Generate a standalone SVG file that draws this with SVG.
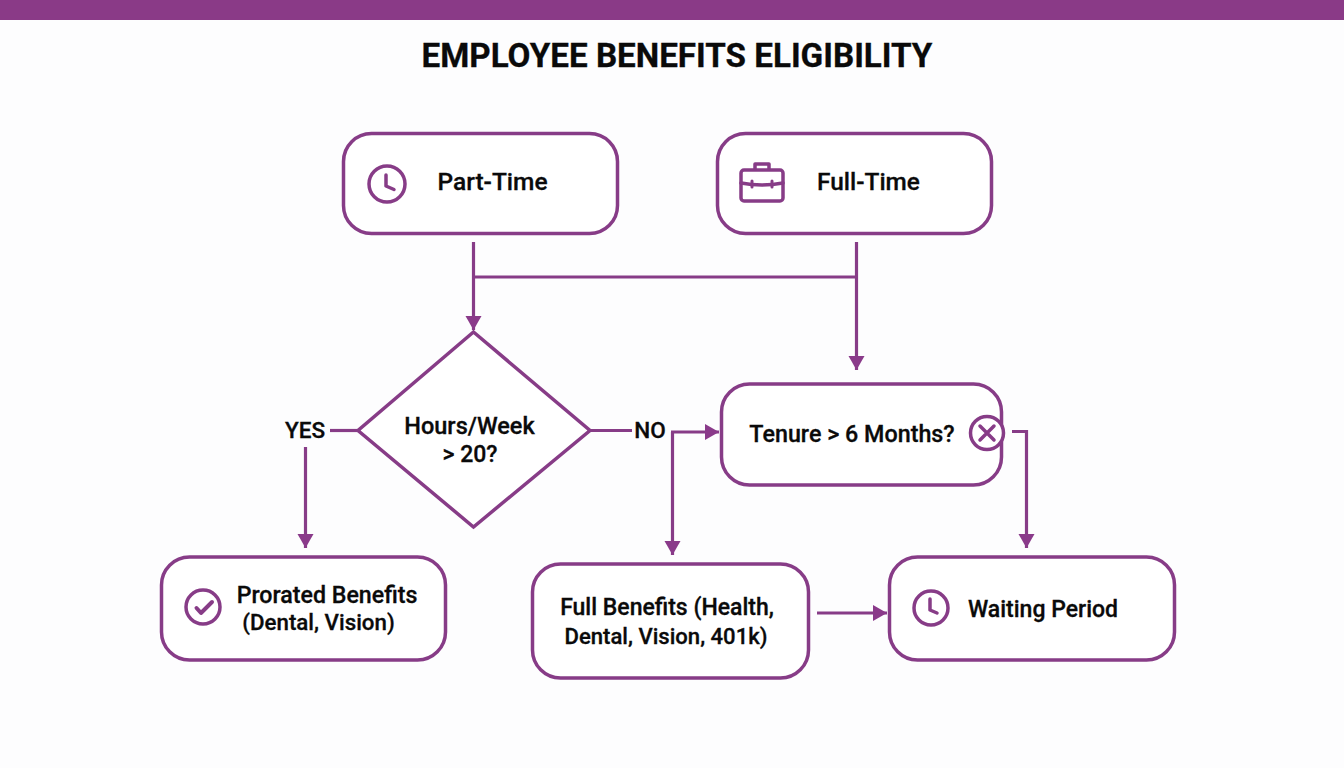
<svg xmlns="http://www.w3.org/2000/svg" width="1344" height="768" viewBox="0 0 1344 768">
<defs>
<marker id="ah" markerUnits="userSpaceOnUse" markerWidth="15" markerHeight="18" refX="14" refY="9" orient="auto"><path d="M0 1L14 9L0 17Z" fill="#8a3a8a"/></marker>
</defs>
<style>
.n{fill:#fff;stroke:#873c87;stroke-width:3.5}
.i{fill:none;stroke:#873c87;stroke-width:3.5;stroke-linecap:round;stroke-linejoin:round}
.c{fill:none;stroke:#873c87;stroke-width:3.2}
.t{font-family:Roboto,"Liberation Sans",sans-serif;font-weight:500;font-size:23px;fill:#0a0a0a;text-anchor:middle;stroke:#0a0a0a;stroke-width:.3}
</style>
<rect width="1344" height="768" fill="#fdfdfe"/>
<rect width="1344" height="20" fill="#8a3a87"/>
<text x="677" y="67" class="t" style="font-size:33.200px;font-weight:700">EMPLOYEE BENEFITS ELIGIBILITY</text>
<g id="connectors">
<path class="c" d="M473.500 242V330" marker-end="url(#ah)"/>
<path class="c" d="M473.500 277H858"/>
<path class="c" d="M856.500 242V370" marker-end="url(#ah)"/>
<path class="c" d="M330 430.500H358"/>
<path class="c" d="M590 430.500H632"/>
<path class="c" d="M305.500 447V548" marker-end="url(#ah)"/>
<path class="c" d="M671 432H719" marker-end="url(#ah)"/>
<path class="c" d="M672.500 432V555" marker-end="url(#ah)"/>
<path class="c" d="M1012 431.500H1026.500V548" marker-end="url(#ah)"/>
<path class="c" d="M817 613H887" marker-end="url(#ah)"/>
</g>
<g id="part-time"><rect class="n" x="343.500" y="133.500" width="274" height="100" rx="28"/>
<circle class="i" cx="387" cy="184" r="18"/><path class="i" d="M386 175V186L394 189.500"/>
<text x="492.500" y="190" class="t" style="font-size:24.500px">Part-Time</text></g>
<g id="full-time"><rect class="n" x="717.500" y="133.500" width="274" height="100" rx="28"/>
<rect class="i" x="741" y="170" width="42" height="31" rx="3"/><path class="i" d="M755 169V164H769V169M741 183Q762 187 783 183"/><path d="M752 181v6M772 181v6" class="i" style="stroke-width:3"/>
<text x="868.500" y="190" class="t" style="font-size:24.400px">Full-Time</text></g>
<g id="hours"><path class="n" d="M473.500 332L590 430.500L473.500 527L358 430.500Z"/>
<text x="469.500" y="434" class="t" style="font-size:23.500px">Hours/Week</text><text x="470" y="462" class="t">&gt; 20?</text></g>
<g id="tenure"><rect class="n" x="721.500" y="384" width="280" height="101" rx="28"/>
<text x="852" y="442" class="t" style="font-size:23.300px">Tenure &gt; 6 Months?</text>
<circle class="i" cx="987" cy="433" r="16.500" style="fill:#fff"/><path class="i" d="M980 426L994 440M994 426L980 440"/></g>
<g id="prorated"><rect class="n" x="161.500" y="557" width="284" height="103" rx="28"/>
<circle class="i" cx="203" cy="607" r="17"/><path class="i" d="M196.500 608L201 613L212 602" style="stroke-width:4"/>
<text x="327" y="603" class="t" style="font-size:23.200px">Prorated Benefits</text><text x="318.500" y="630" class="t" style="font-size:22.300px">(Dental, Vision)</text></g>
<g id="full-benefits"><rect class="n" x="532.500" y="564" width="276" height="114" rx="28"/>
<text x="667" y="615" class="t">Full Benefits (Health,</text><text x="666" y="644" class="t" style="font-size:22.100px">Dental, Vision, 401k)</text></g>
<g id="waiting"><rect class="n" x="889.500" y="557" width="285" height="103" rx="28"/>
<circle class="i" cx="931" cy="608" r="17"/><path class="i" d="M930 599V610L937 613"/>
<text x="1043" y="617" class="t">Waiting Period</text></g>
<g id="labels"><text x="305" y="438" class="t" style="font-size:22.500px">YES</text><text x="650" y="438" class="t" style="font-size:22.500px">NO</text></g>
</svg>
